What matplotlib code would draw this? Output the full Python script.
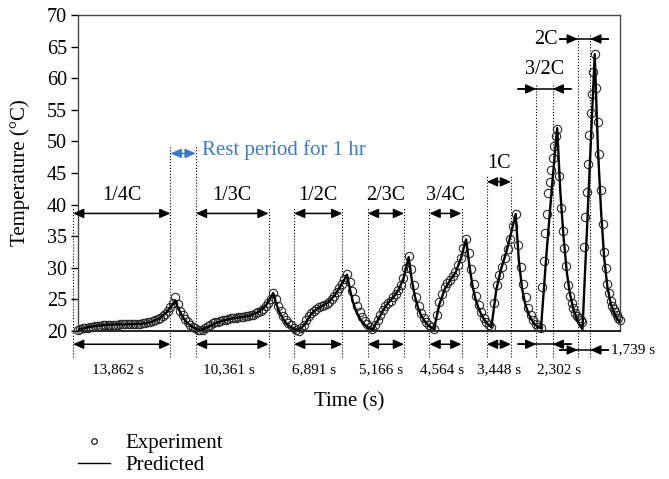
import numpy as np
import matplotlib
matplotlib.use('Agg')
import matplotlib.pyplot as plt
from matplotlib.lines import Line2D

plt.rcParams['font.family'] = ['Liberation Serif', 'DejaVu Serif']

# C-rate steps, each followed by a 1 hr rest
rates = ['1/4C', '1/3C', '1/2C', '2/3C', '3/4C', '1C', '3/2C', '2C']
durations = [13862, 10361, 6891, 5166, 4564, 3448, 2302, 1739]
duration_labels = ['13,862 s', '10,361 s', '6,891 s', '5,166 s', '4,564 s',
                   '3,448 s', '2,302 s', '1,739 s']
rest_time = 3600
lag = 650  # measured curve trails the marked step a little

# experiment (circles): temperature during each step and each rest, evenly spaced in time
exp_start = 20.2
exp_charge = [
    [20.3, 20.4, 20.5, 20.55, 20.6, 20.7, 20.75, 20.8, 20.85, 20.9, 20.9, 20.95, 21.0,
     21.0, 21.0, 21.0, 21.05, 21.05, 21.05, 21.05, 21.05, 21.1, 21.1, 21.1, 21.15, 21.2,
     21.3, 21.4, 21.5, 21.6, 21.75, 21.9, 22.05, 22.3, 22.7, 23.2, 23.8, 24.5, 25.3],
    [20.2, 20.5, 20.8, 21.0, 21.2, 21.4, 21.5, 21.6, 21.7, 21.8, 21.9, 22.0, 22.05, 22.1,
     22.15, 22.2, 22.25, 22.3, 22.4, 22.5, 22.6, 22.8, 23.0, 23.2, 23.5, 23.9, 24.4, 25.1, 26.0],
    [20.4, 21.0, 21.7, 22.3, 22.8, 23.2, 23.55, 23.8, 23.95, 24.1, 24.3, 24.6, 25.0, 25.5,
     26.1, 26.8, 27.5, 28.2, 29.0],
    [20.9, 21.8, 22.6, 23.3, 23.9, 24.4, 24.8, 25.3, 25.8, 26.5, 27.3, 28.4, 30.0, 31.8],
    [22.6, 24.6, 25.9, 26.9, 27.6, 28.1, 28.7, 29.4, 30.4, 31.6, 33.1, 34.6],
    [24.5, 27.2, 28.8, 30.2, 31.5, 32.9, 34.6, 36.6, 38.5],
    [27.0, 31.0, 35.5, 38.5, 41.8, 43.6, 45.5, 47.3, 49.3, 50.8, 52.0],
    [33.3, 38.0, 42.0, 46.5, 51.0, 54.5, 57.5, 61.0, 63.9],
]
exp_rest = [
    [24.3, 23.2, 22.5, 21.9, 21.4, 21.0, 20.7, 20.4, 20.2, 20.1],
    [25.0, 24.0, 23.1, 22.4, 21.8, 21.3, 20.9, 20.5, 20.2, 20.0],
    [27.8, 26.3, 25.0, 23.9, 23.0, 22.2, 21.6, 21.1, 20.6, 20.3],
    [29.8, 27.2, 25.4, 24.0, 22.9, 22.1, 21.5, 21.0, 20.6, 20.3],
    [32.3, 29.8, 27.5, 25.6, 24.1, 23.0, 22.1, 21.4, 20.9, 20.6],
    [33.6, 30.2, 27.5, 25.3, 23.7, 22.5, 21.7, 21.1, 20.7, 20.4],
    [44.5, 39.5, 35.8, 33.2, 30.3, 27.3, 25.6, 24.4, 23.6, 22.9, 22.4, 22.0, 21.7, 21.5],
    [58.5, 53.0, 48.0, 42.3, 37.0, 32.5, 30.0, 27.4, 26.0, 24.8, 24.0, 23.5, 23.05,
     22.6, 22.1, 21.7],
]

# predicted (line)
pred_start = 20.2
pred_charge = [
    [20.5, 20.75, 20.9, 21.0, 21.05, 21.05, 21.1, 21.15, 21.4, 21.9, 23.0, 24.8],
    [20.6, 21.2, 21.6, 21.9, 22.1, 22.25, 22.5, 23.0, 24.0, 26.0],
    [21.0, 22.6, 23.5, 24.0, 24.6, 25.7, 27.2, 28.9],
    [21.6, 23.2, 24.4, 25.3, 26.4, 28.3, 31.7],
    [24.2, 26.6, 28.0, 29.2, 31.4, 34.5],
    [26.5, 29.8, 32.3, 35.3, 38.5],
    [32.0, 42.5, 52.1],
    [34.6, 49.2, 63.8],
]
pred_rest = [
    [23.6, 22.6, 21.8, 21.2, 20.8, 20.5, 20.3, 20.15],
    [24.2, 22.9, 22.0, 21.3, 20.8, 20.5, 20.25, 20.1],
    [26.4, 24.4, 23.0, 22.0, 21.3, 20.8, 20.45, 20.2],
    [28.0, 25.4, 23.6, 22.4, 21.6, 21.0, 20.6, 20.3],
    [30.5, 27.2, 25.0, 23.5, 22.4, 21.6, 21.0, 20.6],
    [31.2, 26.8, 24.3, 22.8, 21.8, 21.1, 20.7, 20.4],
    [42.0, 35.0, 29.5, 26.0, 23.7, 22.2, 21.0, 20.3],
    [49.0, 39.0, 31.5, 27.0, 24.5, 23.0, 22.0, 21.4],
]

starts = np.concatenate([[0], np.cumsum(np.array(durations) + rest_time)[:-1]])
ends = starts + np.array(durations)


def build(first, charge, rest):
    t = [lag]
    T = [first]
    for s, d, c, r in zip(starts, durations, charge, rest):
        t += list(lag + s + d * np.arange(1, len(c) + 1) / len(c))
        T += c
        t += list(lag + s + d + rest_time * np.arange(1, len(r) + 1) / len(r))
        T += r
    return np.array(t), np.array(T)


t_exp, T_exp = build(exp_start, exp_charge, exp_rest)
t_pred, T_pred = build(pred_start, pred_charge, pred_rest)

fig = plt.figure(figsize=(6.69, 4.79), dpi=100)
ax = fig.add_axes([0.1166, 0.309, 0.8102, 0.6597])

ax.plot(t_exp, T_exp, 'o', ms=6, mfc='none', mec='#2a2a2a', mew=0.8,
        clip_on=False, zorder=3)
ax.plot(t_pred, T_pred, '-', color='k', lw=1.7, zorder=4)

ax.set_xlim(711, 77783)
ax.set_ylim(20, 70)
ax.set_yticks(range(20, 75, 5))
ax.set_xticks([])
ax.tick_params(axis='y', labelsize=14.5, length=5, width=1, pad=3)
for side in ['top', 'right', 'left']:
    ax.spines[side].set_color('#4a4a4a')
    ax.spines[side].set_linewidth(1.0)
ax.spines['bottom'].set_color('k')
ax.spines['bottom'].set_linewidth(1.2)

# annotation layout
top_y = [38.6] * 5 + [43.6, 58.3, 66.2]
label_y = [41.5] * 5 + [46.5, 61.3, 66.2]
low_y = [17.9] * 7 + [17.0]
outward = [False] * 6 + [True, True]
dur_shift = [-550, -450, -550, -650, -550, 0, 2100, 0]
ext = 2600
ah = ',head_length=0.45,head_width=0.2'


def arrow(x0, x1, y, style, color='k'):
    ax.annotate('', xy=(x1, y), xytext=(x0, y), annotation_clip=False,
                arrowprops=dict(arrowstyle=style + ah, color=color, lw=1.1,
                                shrinkA=0, shrinkB=0, mutation_scale=14))


for i, (s, e) in enumerate(zip(starts, ends)):
    tops = [top_y[i] + 1.0, top_y[i] + 1.0]
    if i == 0:
        tops[1] = 49.4
    if i == 1:
        tops[0] = 49.4
    for x, top in zip([s, e], tops):
        ax.plot([x, x], [15.9, top], color='k', ls=':', lw=0.8, clip_on=False, zorder=1)
    for y in [top_y[i], low_y[i]]:
        if outward[i]:
            ax.plot([s - ext, e + ext], [y, y], color='k', lw=1.1, clip_on=False)
            arrow(s - ext, s, y, '-|>')
            arrow(e + ext, e, y, '-|>')
        else:
            arrow(s, e, y, '<|-|>')
    if rates[i] == '2C':
        ax.text(s - ext - 200, label_y[i], rates[i], ha='right', va='center',
                fontsize=14.5)
        ax.text(e + ext + 300, low_y[i], duration_labels[i], ha='left', va='center',
                fontsize=11)
    else:
        ax.text((s + e) / 2, label_y[i], rates[i], ha='center', va='center',
                fontsize=14.5)
        ax.text((s + e) / 2 + dur_shift[i], 13.8, duration_labels[i], ha='center',
                va='center', fontsize=11)

# rest period marker
blue = '#3b7bc8'
arrow(ends[0], starts[1], 48.1, '<|-|>', color=blue)
ax.text(starts[1] + 950, 48.6, 'Rest period for 1 hr', color=blue, fontsize=15,
        ha='left', va='center')

fig.text(20 / 669, 0.639, 'Temperature (°C)', rotation=90, ha='center', va='center',
         fontsize=15)
fig.text(349 / 669, 0.1608, 'Time (s)', ha='center', va='center', fontsize=15)

handles = [Line2D([], [], marker='o', ls='none', ms=4, mfc='none', mec='k', mew=0.8),
           Line2D([], [], color='k', lw=1.0)]
fig.legend(handles, ['Experiment', 'Predicted'], loc='center left',
           bbox_to_anchor=(78 / 669, 0.0514), frameon=False, fontsize=15,
           handlelength=1.55, handletextpad=0.7, labelspacing=0.1,
           borderpad=0, borderaxespad=0)

fig.savefig('out.png', dpi=100)
